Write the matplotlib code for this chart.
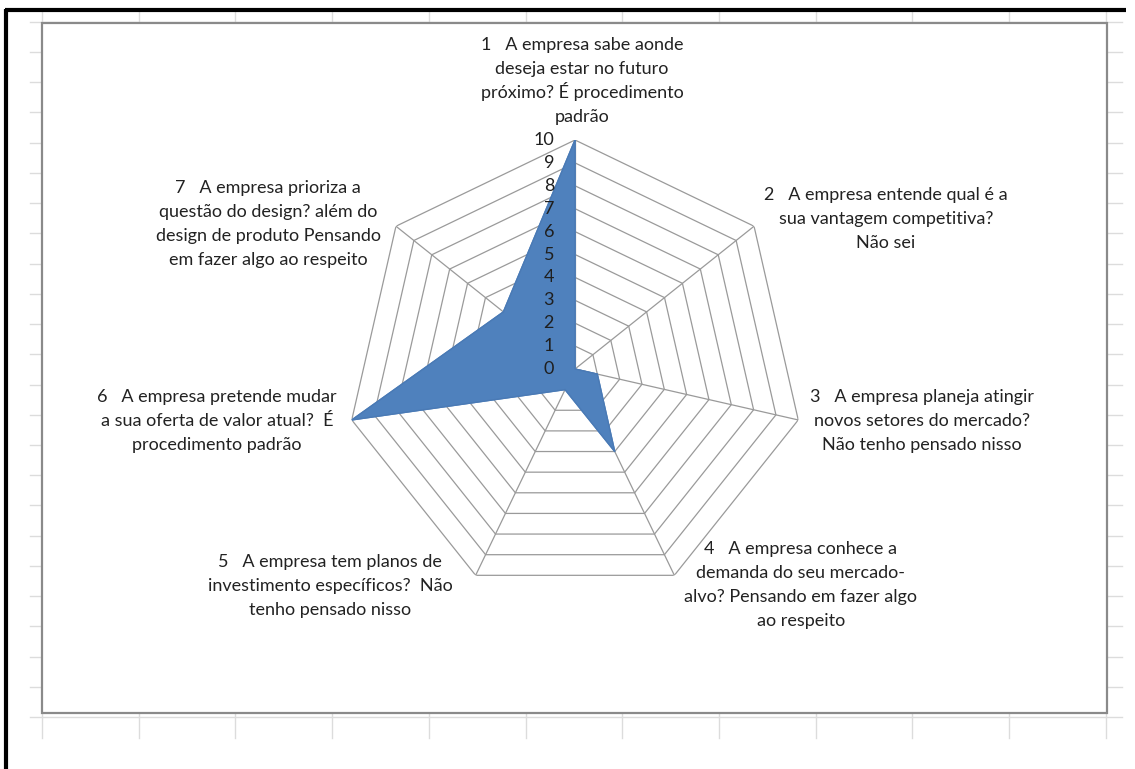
import numpy as np
import matplotlib
matplotlib.use("Agg")
import matplotlib.pyplot as plt
from matplotlib.patches import Rectangle
from matplotlib.transforms import offset_copy

# survey questions (one spoke each) and the score given to each answer
questions = [
    "1   A empresa sabe aonde\ndeseja estar no futuro\npróximo? É procedimento\npadrão",
    "2   A empresa entende qual é a\nsua vantagem competitiva?\nNão sei",
    "3   A empresa planeja atingir\nnovos setores do mercado?\nNão tenho pensado nisso",
    "4   A empresa conhece a\ndemanda do seu mercado-\nalvo? Pensando em fazer algo\nao respeito",
    "5   A empresa tem planos de\ninvestimento específicos?  Não\ntenho pensado nisso",
    "6   A empresa pretende mudar\na sua oferta de valor atual?  É\nprocedimento padrão",
    "7   A empresa prioriza a\nquestão do design? além do\ndesign de produto Pensando\nem fazer algo ao respeito",
]
scores = [10, 0, 1, 4, 1, 10, 4]
ring_values = list(range(0, 11))

# centre of each question label block (pixels from top-left)
label_pos = [(582, 81), (886, 219), (922, 421), (801, 585), (330, 586), (217, 421), (268, 224)]
LINE_H = 24.2
FS = 13

W, H = 1135, 769
plt.rcParams['font.family'] = ['Lato', 'DejaVu Sans']
fig = plt.figure(figsize=(W / 100, H / 100), dpi=100)

# background layer in pixel units: spreadsheet cells, window border, chart area
bg = fig.add_axes([0, 0, 1, 1])
bg.set_xlim(0, W)
bg.set_ylim(H, 0)
bg.axis('off')

col_x = 42 + 96.7 * np.arange(12)
row_y = 21.8 + 30.23 * np.arange(24)
for x in col_x:
    bg.plot([x, x], [11, 738], color='#dcdcdc', lw=1, zorder=1)
for y in row_y:
    bg.plot([30, 1122], [y, y], color='#dcdcdc', lw=1, zorder=1)

bg.add_patch(Rectangle((42, 23), 1065, 690, facecolor='white', edgecolor='#8a8a8a', lw=1.6, zorder=2))
bg.plot([6, 6], [9, H], color='black', lw=3, zorder=3, solid_capstyle='butt')
bg.plot([5, 1126], [10, 10], color='black', lw=3, zorder=3, solid_capstyle='butt')

# one text per line so accented capitals don't stretch the line spacing
for text, (x, y) in zip(questions, label_pos):
    lines = text.split('\n')
    top = y - LINE_H * (len(lines) - 1) / 2
    for i, line in enumerate(lines):
        bg.text(x, top + i * LINE_H + 5, line, ha='center', va='baseline',
                fontsize=FS, color='#222222', zorder=4)

# radar chart
cx, cy, R = 575, 369, 229
ax = fig.add_axes([(cx - R) / W, (H - cy - R) / H, 2 * R / W, 2 * R / H], projection='polar')
ax.set_theta_offset(np.pi / 2)
ax.set_theta_direction(-1)
ax.set_ylim(0, 10)
ax.axis('off')
ax.patch.set_alpha(0)

n = len(scores)
theta = np.linspace(0, 2 * np.pi, n, endpoint=False)
theta_closed = np.append(theta, theta[0])

for r in ring_values[1:]:
    ax.plot(theta_closed, [r] * (n + 1), color='#9a9a9a', lw=0.9, zorder=1)
for t in theta:
    ax.plot([t, t], [0, 10], color='#9a9a9a', lw=0.9, zorder=1)

vals = np.append(scores, scores[0])
ax.fill(theta_closed, vals, color='#4f81bd', zorder=2)
ax.plot(theta_closed, vals, color='#4a7ab5', lw=1, zorder=3)

lbl_tr = offset_copy(ax.transData, fig=fig, x=-21, y=0, units='dots')
for r in ring_values:
    ax.text(0, r, str(r), transform=lbl_tr, ha='right', va='center',
            fontsize=FS, color='#1f1f1f', zorder=4)

fig.savefig('out.png', dpi=100)
